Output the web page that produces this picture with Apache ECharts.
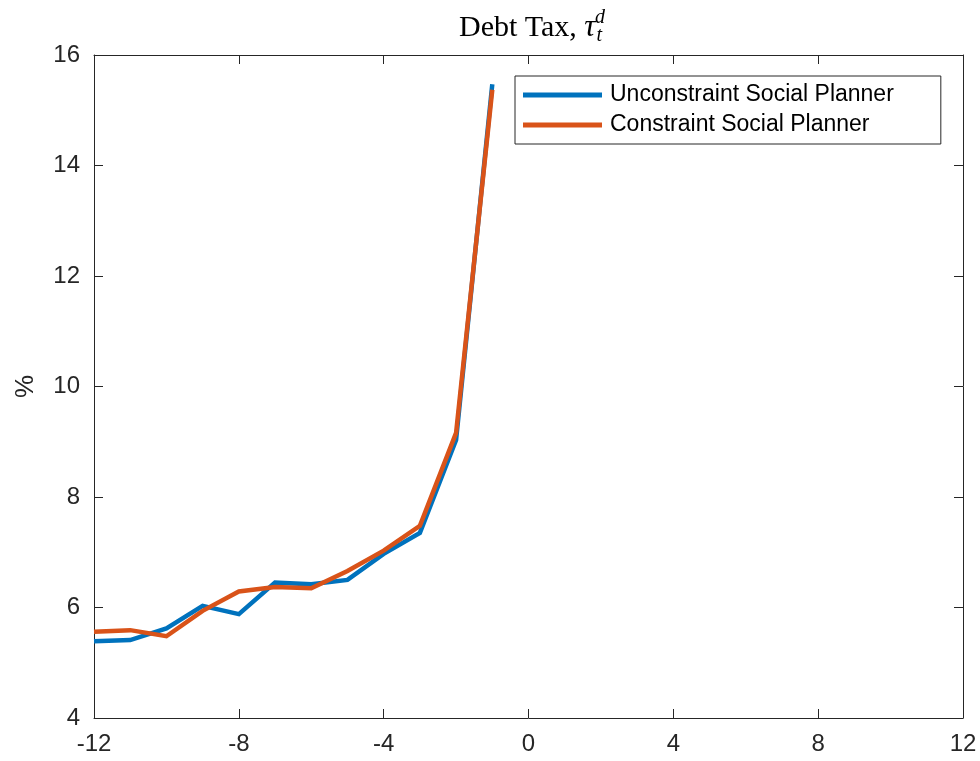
<!DOCTYPE html>
<html>
<head>
<meta charset="utf-8">
<script src="https://cdn.jsdelivr.net/npm/echarts@6/dist/echarts.min.js"></script>
<style>
  html, body { margin: 0; padding: 0; background: #fff; }
  #chart { width: 980px; height: 761px; }
</style>
</head>
<body>
<div id="chart"></div>
<script>
// Quarters before the crisis
const periods = [-12, -11, -10, -9, -8, -7, -6, -5, -4, -3, -2, -1];
// Debt tax, percent
const unconstrained = [5.39, 5.41, 5.62, 6.03, 5.88, 6.45, 6.42, 6.50, 6.97, 7.35, 9.03, 15.47];
const constrained   = [5.56, 5.59, 5.48, 5.94, 6.29, 6.37, 6.35, 6.66, 7.03, 7.48, 9.16, 15.37];
const seriesNames = ['Unconstraint Social Planner', 'Constraint Social Planner'];
const xTicks = [-12, -8, -4, 0, 4, 8, 12];
const yTicks = [4, 6, 8, 10, 12, 14, 16];

const axisColor = '#262626';
const labelFont = { fontFamily: 'Liberation Sans, Arial, sans-serif', fontSize: 24, color: axisColor };

const chart = echarts.init(document.getElementById('chart'));

function pairs(vals) { return periods.map((p, i) => [p, vals[i]]); }

const baseX = {
  type: 'value', min: xTicks[0], max: xTicks[xTicks.length - 1], interval: 4,
  axisLine: { show: true, onZero: false, lineStyle: { color: axisColor, width: 1 } },
  axisTick: { show: true, inside: true, length: 9, lineStyle: { color: axisColor } },
  splitLine: { show: false }
};
const baseY = {
  type: 'value', min: yTicks[0], max: yTicks[yTicks.length - 1], interval: 2,
  axisLine: { show: true, onZero: false, lineStyle: { color: axisColor, width: 1 } },
  axisTick: { show: true, inside: true, length: 9, lineStyle: { color: axisColor } },
  splitLine: { show: false }
};

chart.setOption({
  animation: false,
  backgroundColor: '#fff',
  title: {
    text: 'Debt Tax, {tau|τ}{sub|t}{sup|d}',
    left: 527, top: 3, textAlign: 'center',
    textStyle: {
      fontFamily: 'Liberation Serif, DejaVu Serif, serif', fontSize: 30, fontWeight: 'normal', color: '#000',
      rich: {
        tau: { fontFamily: 'Liberation Serif, serif', fontStyle: 'italic', fontSize: 31, color: '#000' },
        sub: { fontFamily: 'Liberation Serif, serif', fontStyle: 'italic', fontSize: 20, color: '#000', padding: [15, 0, 0, 1] },
        sup: { fontFamily: 'Liberation Serif, serif', fontStyle: 'italic', fontSize: 20, color: '#000', padding: [0, 0, 20, -7] }
      }
    }
  },
  grid: { left: 94, top: 55, width: 869, height: 663, containLabel: false, outerBoundsMode: 'none' },
  legend: {
    orient: 'vertical',
    left: 515, top: 76,
    padding: [6, 47, 6, 8],
    itemGap: 4,
    itemWidth: 79,
    itemHeight: 5,
    icon: 'rect',
    borderColor: '#262626', borderWidth: 1,
    backgroundColor: '#fff',
    textStyle: { fontFamily: 'Liberation Sans, Arial, sans-serif', fontSize: 23, lineHeight: 26, color: '#000', padding: [0, 0, 0, 3] },
    data: seriesNames
  },
  xAxis: [
    Object.assign({}, baseX, {
      position: 'bottom',
      axisLabel: Object.assign({ margin: 14 }, labelFont)
    }),
    Object.assign({}, baseX, { position: 'top', axisLabel: { show: false } })
  ],
  yAxis: [
    Object.assign({}, baseY, {
      position: 'left',
      name: '%', nameLocation: 'middle', nameGap: 55, nameRotate: 90,
      nameTextStyle: Object.assign({}, labelFont, { fontSize: 26, color: axisColor }),
      axisLabel: Object.assign({ margin: 14 }, labelFont)
    }),
    Object.assign({}, baseY, { position: 'right', axisLabel: { show: false } })
  ],
  series: [
    {
      name: seriesNames[0], type: 'line', xAxisIndex: 0, yAxisIndex: 0,
      data: pairs(unconstrained), showSymbol: false, symbol: 'none',
      lineStyle: { color: '#0072BD', width: 4.5, join: 'miter' },
      itemStyle: { color: '#0072BD' }
    },
    {
      name: seriesNames[1], type: 'line', xAxisIndex: 0, yAxisIndex: 0,
      data: pairs(constrained), showSymbol: false, symbol: 'none',
      lineStyle: { color: '#D95319', width: 4.5, join: 'miter' },
      itemStyle: { color: '#D95319' }
    }
  ]
});
</script>
</body>
</html>
